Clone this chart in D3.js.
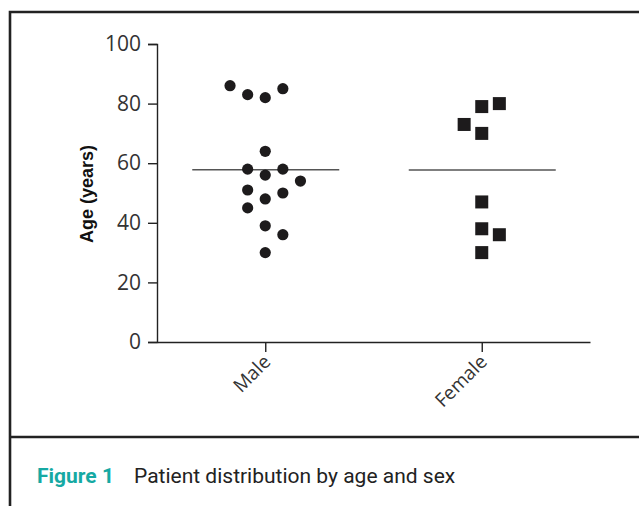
<!DOCTYPE html>
<html>
<head>
<meta charset="utf-8">
<script src="https://cdn.jsdelivr.net/npm/d3@7"></script>
<style>
  body { margin: 0; background: #fff; }
  svg { display: block; }
</style>
</head>
<body>
<script>
// groups on the x axis
var groups = ["Male", "Female"];

// ages, with the column each point sits in
var maleAges = [86, 83, 82, 85, 64, 58, 58, 56, 54, 51, 50, 48, 45, 39, 36, 30];
var maleCols = [-2, -1, 0, 1, 0, -1, 1, 0, 2, -1, 1, 0, -1, 0, 1, 0];
var femaleAges = [79, 80, 73, 70, 47, 38, 36, 30];
var femaleCols = [0, 1, -1, 0, 0, 0, 1, 0];

// horizontal line drawn across each group
var lineLevels = [57.8, 57.7];

var yTicks = [0, 20, 40, 60, 80, 100];

var width = 639, height = 506;

var svg = d3.select("body").append("svg")
  .attr("width", width)
  .attr("height", height);

// frame around the figure
svg.append("path")
  .attr("d", "M10,506V12H639M10,437H639")
  .attr("fill", "none")
  .attr("stroke", "#222")
  .attr("stroke-width", 2.6);

var x = d3.scalePoint().domain(groups).range([157, 590]).padding(0.5);
var y = d3.scaleLinear().domain([0, 100]).range([342, 44]);
var col = d3.scaleLinear().domain([-1, 1]).range([-17.6, 17.6]);

var tickFont = "'Open Sans', 'DejaVu Sans', sans-serif";

// y axis
var yAxis = svg.append("g")
  .attr("transform", "translate(157,0)")
  .call(d3.axisLeft(y).tickValues(yTicks).tickSize(9).tickPadding(7));
yAxis.attr("font-size", null).attr("font-family", null);
yAxis.select(".domain").attr("stroke", "#222").attr("stroke-width", 1.4);
yAxis.selectAll(".tick line").attr("stroke", "#222").attr("stroke-width", 1.4);
yAxis.selectAll(".tick text")
  .attr("fill", "#333")
  .style("font-family", tickFont)
  .style("font-size", "21px");

// x axis
var xAxis = svg.append("g")
  .attr("transform", "translate(0,342)")
  .call(d3.axisBottom(x).tickSize(10).tickSizeOuter(0));
xAxis.attr("font-size", null).attr("font-family", null);
xAxis.select(".domain").attr("stroke", "#222").attr("stroke-width", 1.4);
xAxis.selectAll(".tick line").attr("stroke", "#222").attr("stroke-width", 1.4);
xAxis.selectAll(".tick text")
  .attr("fill", "#333")
  .attr("text-anchor", "end")
  .attr("dy", null)
  .attr("y", 0)
  .attr("transform", "translate(6,21) rotate(-45)")
  .style("font-family", tickFont)
  .style("font-size", "19px");

// y label
svg.append("text")
  .attr("transform", "translate(93,194) rotate(-90)")
  .attr("text-anchor", "middle")
  .style("font-family", "'Liberation Sans', Arial, sans-serif")
  .style("font-weight", "bold")
  .style("font-size", "18px")
  .attr("fill", "#111")
  .text("Age (years)");

// group lines
svg.selectAll(".level")
  .data(groups)
  .enter().append("line")
  .attr("class", "level")
  .attr("x1", function(d) { return x(d) - 73; })
  .attr("x2", function(d) { return x(d) + 74; })
  .attr("y1", function(d, i) { return y(lineLevels[i]); })
  .attr("y2", function(d, i) { return y(lineLevels[i]); })
  .attr("stroke", "#555")
  .attr("stroke-width", 1.6);

// male dots
svg.selectAll(".male")
  .data(maleAges)
  .enter().append("circle")
  .attr("class", "male")
  .attr("cx", function(d, i) { return x("Male") + col(maleCols[i]); })
  .attr("cy", function(d) { return y(d); })
  .attr("r", 5.6)
  .attr("fill", "#1d1b1c");

// female squares
var side = 13;
svg.selectAll(".female")
  .data(femaleAges)
  .enter().append("rect")
  .attr("class", "female")
  .attr("x", function(d, i) { return x("Female") + col(femaleCols[i]) - side / 2; })
  .attr("y", function(d) { return y(d) - side / 2; })
  .attr("width", side)
  .attr("height", side)
  .attr("fill", "#1d1b1c");

// caption
var cap = svg.append("text")
  .attr("x", 37)
  .attr("y", 483)
  .style("font-family", "Roboto, 'Liberation Sans', sans-serif")
  .style("font-size", "21px");
cap.append("tspan")
  .attr("fill", "#16a9a3")
  .style("font-weight", "bold")
  .text("Figure 1");
cap.append("tspan")
  .attr("x", 134)
  .attr("fill", "#222")
  .text("Patient distribution by age and sex");
</script>
</body>
</html>
